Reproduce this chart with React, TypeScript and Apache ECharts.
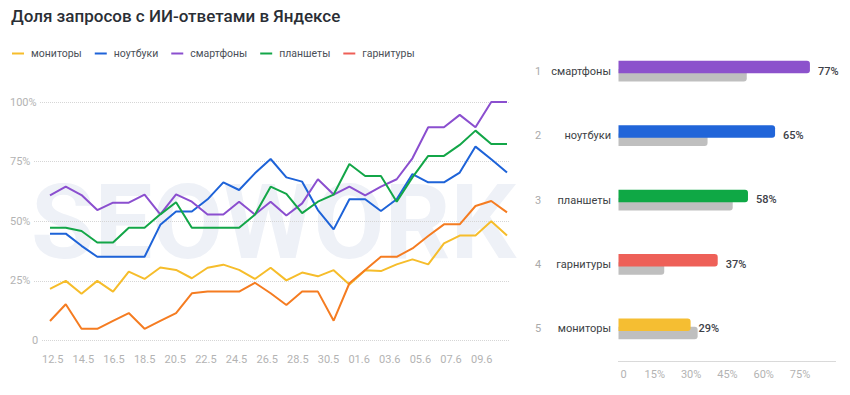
import React, { useEffect, useRef } from 'react';
import * as echarts from 'echarts';

const dates = [
  '12.5', '13.5', '14.5', '15.5', '16.5', '17.5', '18.5', '19.5', '20.5', '21.5',
  '22.5', '23.5', '24.5', '25.5', '26.5', '27.5', '28.5', '29.5', '30.5', '31.5',
  '01.6', '02.6', '03.6', '04.6', '05.6', '06.6', '07.6', '08.6', '09.6', '10.6',
];

const monitors = [21.6, 25, 19.6, 25, 20.5, 28.9, 25.8, 30.6, 29.6, 26.1, 30.5, 31.8, 29.6, 25.8, 30.5, 25.2, 28.5, 26.9, 29.5, 23.5, 29.5, 29.1, 31.9, 34, 31.9, 40.7, 44, 44, 50, 44];
const laptops = [44.8, 44.8, 39.7, 35.1, 35.1, 35.1, 35.1, 48.5, 54.1, 54.1, 59.2, 66.3, 63.1, 70.1, 76.1, 68.4, 66.6, 54.7, 46.6, 59.2, 59.2, 54.3, 59.2, 69.8, 66.3, 66.3, 70.4, 81.3, 76, 70.4];
const phones = [60.8, 64.5, 61.0, 54.7, 57.8, 57.8, 61.2, 52.9, 61.3, 58.2, 52.8, 52.8, 58.2, 52.8, 58.2, 52.4, 57.5, 67.6, 61.2, 64.5, 60.9, 64.5, 67.6, 76.4, 89.4, 89.4, 94.6, 89.4, 100, 100];
const tablets = [47.3, 47.3, 45.9, 41.1, 41.1, 47.3, 47.3, 52.9, 58, 47.3, 47.3, 47.3, 47.3, 52.7, 64.5, 61.5, 53.4, 58.2, 61.2, 74, 69, 69, 58.2, 68.4, 77.4, 77.4, 82, 88, 82.4, 82.4];
const headsets = [8.2, 15.2, 4.9, 4.9, 8.2, 11.5, 4.9, 8.2, 11.5, 19.8, 20.5, 20.5, 20.5, 24.2, 19.8, 14.9, 20.5, 20.5, 8.3, 24, 29.6, 35.1, 35.1, 38.6, 43.8, 48.7, 48.7, 56.4, 58.5, 53.7];

const seriesNames = ['мониторы', 'ноутбуки', 'смартфоны', 'планшеты', 'гарнитуры'];
const lineColors = ['#F6BD2B', '#1E63D8', '#8B4FCF', '#13A648', '#F57C21'];
const legendColors = ['#F6BD2B', '#1E63D8', '#8B4FCF', '#13A648', '#EE5F57'];

const barCategories = ['смартфоны', 'ноутбуки', 'планшеты', 'гарнитуры', 'мониторы'];
const barRanks = ['1', '2', '3', '4', '5'];
const barValues = [79.1, 64.7, 53.5, 41, 29.8];
const barShown = [77, 65, 58, 37, 29];
const barPrev = [53, 36.8, 47.2, 18.9, 32.7];
const barColors = ['#8C52CC', '#2165D9', '#0FA845', '#EE6058', '#F5BE32'];

const FONT = 'Roboto';

export default function App() {
  const ref = useRef<HTMLDivElement>(null);
  useEffect(() => {
    const chart = echarts.init(ref.current as HTMLDivElement, null, { renderer: 'svg' });
    const lineData = [monitors, laptops, phones, tablets, headsets];
    chart.setOption({
      animation: false,
      backgroundColor: '#ffffff',
      textStyle: { fontFamily: FONT },
      title: {
        text: 'Доля запросов с ИИ-ответами в Яндексе',
        left: 11,
        top: 7,
        padding: 0,
        textStyle: { fontFamily: FONT, fontSize: 17, fontWeight: 500, color: '#2a2e35' },
      },
      legend: {
        left: 7,
        top: 43,
        icon: 'rect',
        itemWidth: 12,
        itemHeight: 2,
        itemGap: 13,
        textStyle: { fontFamily: FONT, fontSize: 10.5, color: '#4a4f57', padding: [0, 0, 0, 2] },
        data: seriesNames.map((n, i) => ({ name: n, itemStyle: { color: legendColors[i] } })),
      },
      graphic: [
        {
          type: 'text',
          left: 31,
          top: 171,
          z: -10,
          silent: true,
          style: { text: 'SEOWORK', font: `bold 103px ${FONT}`, fill: '#EEF1F7' },
        },
      ],
      grid: [
        { left: 50, width: 457, top: 102, height: 238.5 },
        { left: 30, width: 480, top: 102, height: 238.5 },
        { left: 52.7, width: 444.3, top: 102, height: 238.5 },
        { left: 618.5, width: 217.8, top: 39, height: 322 },
      ],
      xAxis: [
        { gridIndex: 0, type: 'category', data: dates, boundaryGap: false, show: false },
        { gridIndex: 1, type: 'value', show: false },
        {
          gridIndex: 2,
          type: 'category',
          data: dates,
          boundaryGap: false,
          axisLine: { show: false },
          axisTick: { show: false },
          axisLabel: { interval: 1, margin: 13, fontSize: 11, color: '#b3b3b3', fontFamily: FONT },
        },
        {
          gridIndex: 3,
          type: 'value',
          min: 0,
          max: 90,
          interval: 15,
          splitLine: { show: false },
          axisTick: { show: false },
          axisLine: { show: true, lineStyle: { type: 'dotted', color: '#d6d6d6' } },
          axisLabel: {
            showMaxLabel: false,
            margin: 8,
            fontSize: 11,
            color: '#b3b3b3',
            fontFamily: FONT,
            formatter: (v: number) => (v === 0 ? '{z|0}' : v + '%'),
            rich: { z: { padding: [0, 0, 0, 10], fontSize: 11, color: '#b3b3b3', fontFamily: FONT } },
          },
        },
      ],
      yAxis: [
        { gridIndex: 0, type: 'value', min: 0, max: 100, show: false },
        {
          gridIndex: 1,
          type: 'value',
          min: 0,
          max: 100,
          interval: 25,
          axisLine: { show: false },
          axisTick: { show: false },
          splitLine: { show: true, lineStyle: { type: 'dotted', color: '#d6d6d6' } },
          axisLabel: {
            align: 'left',
            margin: 20,
            fontSize: 11,
            color: '#b3b3b3',
            fontFamily: FONT,
            backgroundColor: '#ffffff',
            padding: [0, 3, 0, 0],
            formatter: (v: number) => (v === 0 ? '{z|0}' : v + '%'),
            rich: { z: { padding: [0, 0, 0, 22], fontSize: 11, color: '#b3b3b3', fontFamily: FONT } },
          },
        },
        { gridIndex: 2, type: 'value', min: 0, max: 100, show: false },
        {
          gridIndex: 3,
          type: 'category',
          inverse: true,
          data: barCategories,
          axisLine: { show: false },
          axisTick: { show: false },
          axisLabel: {
            margin: 7.5,
            formatter: (v: string, i: number) => `{r|${barRanks[i]}}{n|${v}}`,
            rich: {
              r: { width: 14, align: 'left', fontSize: 11, color: '#aaaaaa', fontFamily: FONT },
              n: { width: 62, align: 'right', fontSize: 11, color: '#3c3f45', fontFamily: FONT },
            },
          },
        },
      ],
      series: [
        ...seriesNames.map((n, i) => ({
          name: n,
          type: 'line',
          xAxisIndex: 0,
          yAxisIndex: 0,
          data: lineData[i],
          showSymbol: false,
          symbol: 'none',
          z: 3,
          itemStyle: { color: legendColors[i] },
          lineStyle: { color: lineColors[i], width: 2 },
        })),
        {
          name: 'current',
          type: 'bar',
          xAxisIndex: 3,
          yAxisIndex: 3,
          barWidth: 12.5,
          barGap: '-34%',
          z: 4,
          data: barValues.map((v, i) => ({ value: v, itemStyle: { color: barColors[i] } })),
          itemStyle: { borderRadius: [0, 3, 3, 0] },
          label: {
            show: true,
            position: 'right',
            distance: 8,
            offset: [0, 4],
            fontSize: 11,
            fontWeight: 500,
            color: '#3d4148',
            fontFamily: FONT,
            formatter: (p: any) => barShown[p.dataIndex] + '%',
          },
        },
        {
          name: 'previous',
          type: 'bar',
          xAxisIndex: 3,
          yAxisIndex: 3,
          barWidth: 12.5,
          z: 3,
          data: barPrev,
          itemStyle: { color: '#BFBFBF', borderRadius: [0, 3, 3, 0] },
        },
      ],
    });
    return () => chart.dispose();
  }, []);
  return (
    <div
      ref={ref}
      style={{ position: 'absolute', left: 0, top: 0, width: 850, height: 395, background: '#fff' }}
    />
  );
}
